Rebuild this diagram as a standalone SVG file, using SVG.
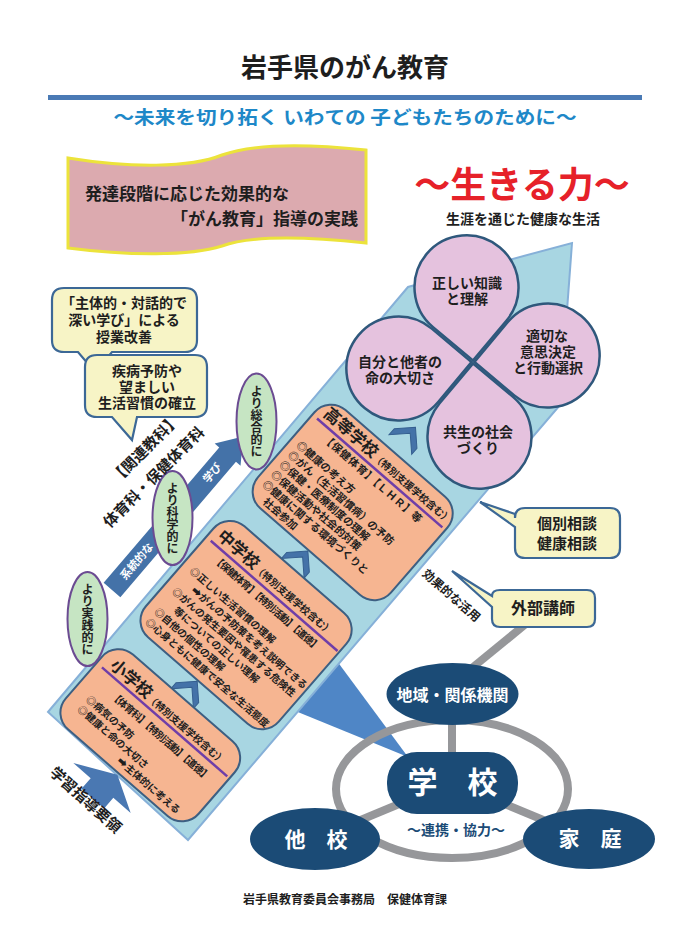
<svg xmlns="http://www.w3.org/2000/svg" xmlns:xlink="http://www.w3.org/1999/xlink" width="690" height="932" viewBox="0 0 690 932">
<style>
text{font-family:"Noto Sans CJK JP","DejaVu Sans",sans-serif;font-weight:bold;fill:#1e1e1e}
.box{fill:#f6b591;stroke:#3d5f82;stroke-width:2}
.pl{stroke:#6f3ea8;stroke-width:2.5}
.chev{fill:#4472a8;stroke:#355f90;stroke-width:1}
.grn{fill:#c6e5c3;stroke:#6b4b92;stroke-width:2}
.bub{fill:#f7f4c6;stroke:#3c6896;stroke-width:2.2}
.pet{fill:#e5c2de;stroke:#2f587c;stroke-width:2.5}
.navy{fill:#1b4b76}
.gr{stroke:#96979a;stroke-width:8;fill:none}
.w{fill:#fff}
.vt{writing-mode:vertical-rl;font-size:12px}
</style>
<defs>
<path id="pt" d="M0,73.5 L36.8,36.8 A52,52 0 1 0 -36.8,36.8 Z"/>
<polygon id="chv" points="-15,4 0,-11 15,4 15,12 0,-3 -15,12"/>
</defs>

<g id="header">
<text x="345" y="77" font-size="26" text-anchor="middle">岩手県のがん教育</text>
<rect x="48" y="95" width="594" height="5" fill="#4a7ab5"/>
<text x="345" y="124" font-size="18" text-anchor="middle" style="fill:#1e88c8" textLength="463" lengthAdjust="spacingAndGlyphs">～未来を切り拓く いわての 子どもたちのために～</text>
</g>

<g id="banner">
<path d="M68,158 C130,168 190,168 222,155 C250,145 300,143 366,150 L366,243 C300,236 250,236 222,246 C190,256 130,256 68,248 Z" fill="#dcaaaf" stroke="#ece33b" stroke-width="3"/>
<text x="85" y="200" font-size="17">発達段階に応じた効果的な</text>
<text x="358" y="225" font-size="17" text-anchor="end">「がん教育」指導の実践</text>
</g>

<g id="ikiru">
<text x="522" y="198" font-size="36" text-anchor="middle" style="fill:#e62129">～生きる力～</text>
<text x="523" y="224" font-size="14" text-anchor="middle">生涯を通じた健康な生活</text>
</g>

<g id="wedge"><polygon points="288,708 334,657 408,757" fill="#4f86c6"/></g>

<g id="band"><polygon points="48,712 408,287 572,243 560,405 188,840" fill="#a8d6e2" stroke="#86b0d8" stroke-width="2"/></g>

<g id="flower">
<use xlink:href="#pt" class="pet" transform="translate(466.5,287.3) rotate(-5)"/>
<use xlink:href="#pt" class="pet" transform="translate(547.7,355.5) rotate(85)"/>
<use xlink:href="#pt" class="pet" transform="translate(479.5,436.7) rotate(175)"/>
<use xlink:href="#pt" class="pet" transform="translate(398.3,368.5) rotate(-95)"/>
<g font-size="14" text-anchor="middle">
<text x="467" y="288">正しい知識</text>
<text x="467" y="304">と理解</text>
<text x="547" y="341">適切な</text>
<text x="548" y="357">意思決定</text>
<text x="548" y="373">と行動選択</text>
<text x="400" y="367">自分と他者の</text>
<text x="400" y="383">命の大切さ</text>
<text x="478" y="437">共生の社会</text>
<text x="478" y="453">づくり</text>
</g>
</g>

<g id="schools" transform="translate(300,560) rotate(41)">
<g id="chevrons">
<use xlink:href="#chv" class="chev" transform="translate(0,-165)"/>
<use xlink:href="#chv" class="chev" transform="translate(0,-1)"/>
<use xlink:href="#chv" class="chev" transform="translate(2,170)"/>
</g>
<g id="high">
<rect class="box" x="-86" y="-143" width="176" height="130" rx="22"/>
<text x="-78" y="-124" font-size="16.5">高等学校<tspan font-size="10">（特別支援学校含む）</tspan></text>
<line class="pl" x1="-80" y1="-118" x2="86" y2="-118"/>
<g font-size="10.5">
<text x="-62" y="-105" textLength="127">【保健体育】【ＬＨＲ】等</text>
<text x="-78" y="-83">◎健康の考え方</text>
<text x="-78" y="-70">◎がん（生活習慣病）の予防</text>
<text x="-78" y="-57">◎保健・医療制度の理解</text>
<text x="-78" y="-44">◎保健活動や社会的対策</text>
<text x="-78" y="-31">◎健康に関する環境づくりと</text>
<text x="-66" y="-18">社会参加</text>
</g>
</g>
<g id="middle">
<rect class="box" x="-86" y="11" width="176" height="147" rx="22"/>
<text x="-78" y="38" font-size="16.5">中学校<tspan font-size="10">（特別支援学校含む）</tspan></text>
<line class="pl" x1="-80" y1="44" x2="88" y2="44"/>
<g font-size="10">
<text x="-66" y="58" textLength="139">【保健体育】【特別活動】【道徳】</text>
<text x="-76" y="82">◎正しい生活習慣の理解</text>
<text x="-62" y="95.5">➡がんの予防策を考え説明できる</text>
<text x="-76" y="109">◎がんの発生要因や罹患する危険性</text>
<text x="-62" y="122.5">等についての正しい理解</text>
<text x="-76" y="136">◎自他の個性の理解</text>
<text x="-76" y="149.5">◎心身ともに健康で安全な生活態度</text>
</g>
</g>
<g id="elementary">
<rect class="box" x="-86" y="181" width="176" height="99" rx="22"/>
<text x="-74" y="206" font-size="16.5">小学校<tspan font-size="10">（特別支援学校含む）</tspan></text>
<line class="pl" x1="-79" y1="211" x2="87" y2="211"/>
<g font-size="10">
<text x="-54" y="228" textLength="129">【体育科】【特別活動】【道徳】</text>
<text x="-70" y="247">◎病気の予防</text>
<text x="-70" y="260">◎健康と命の大切さ</text>
<text x="-6" y="273">➡主体的に考える</text>
</g>
</g>
</g>

<g id="keitou" transform="translate(112,590) rotate(-49.5)">
<path d="M0,-11 H178 V-17 L202,0 L178,17 V11 H0 Z" fill="#4472a8"/>
<text x="16" y="4" font-size="11" class="w">系統的な</text>
<text x="143" y="4" font-size="11" class="w">学び</text>
</g>

<g id="ovals">
<ellipse class="grn" cx="87.5" cy="619" rx="20" ry="47"/>
<text class="vt" x="87.5" y="619" text-anchor="middle">より実践的に</text>
<ellipse class="grn" cx="172.5" cy="518" rx="20" ry="47"/>
<text class="vt" x="172.5" y="518" text-anchor="middle">より科学的に</text>
<ellipse class="grn" cx="256.5" cy="421.5" rx="20" ry="48"/>
<text class="vt" x="256.5" y="421.5" text-anchor="middle">より総合的に</text>
</g>

<g id="kanren" transform="translate(145.5,449) rotate(-45)" font-size="15">
<text x="0" y="5" text-anchor="middle">【関連教科】</text>
<text x="-14" y="31" text-anchor="middle">体育科・保健体育科</text>
</g>

<g id="bubble1">
<path class="bub" d="M64,288 H185 Q197,288 197,300 V340 Q197,352 185,352 H112 L95,372 L78,352 H64 Q52,352 52,340 V300 Q52,288 64,288 Z"/>
<g font-size="14" text-anchor="middle">
<text x="124" y="308">「主体的・対話的で</text>
<text x="124" y="325">深い学び」による</text>
<text x="124" y="342">授業改善</text>
</g>
</g>
<g id="bubble2">
<path class="bub" d="M97,355 H195 Q207,355 207,367 V405 Q207,417 195,417 H137 L132,440 L112,417 H97 Q85,417 85,405 V367 Q85,355 97,355 Z"/>
<g font-size="14" text-anchor="middle">
<text x="147" y="376">疾病予防や</text>
<text x="147" y="392">望ましい</text>
<text x="147" y="408">生活習慣の確立</text>
</g>
</g>

<g id="soudan">
<path class="bub" d="M525,508 H610 Q620,508 620,518 V548 Q620,558 610,558 H525 Q515,558 515,548 V527 L480,502 L515,514 V518 Q515,508 525,508 Z"/>
<text x="567" y="529" font-size="15" text-anchor="middle" font-weight="500">個別相談</text>
<text x="567" y="549" font-size="15" text-anchor="middle" font-weight="500">健康相談</text>
</g>

<g id="connectors">
<line class="gr" x1="445" y1="690" x2="527" y2="623"/>
<ellipse class="gr" cx="452" cy="789" rx="116" ry="69"/>
<line class="gr" x1="452" y1="700" x2="452" y2="780"/>
<line class="gr" x1="452" y1="782" x2="315" y2="839"/>
<line class="gr" x1="452" y1="782" x2="589" y2="839"/>
</g>

<g id="gaibu">
<path class="bub" d="M500,590 H587 Q595,590 595,598 V619 Q595,627 587,627 H500 Q492,627 492,619 V607 L452,571 L492,596 Q492,590 500,590 Z"/>
<text x="543" y="614" font-size="16" text-anchor="middle" font-weight="500">外部講師</text>
</g>

<g id="katsuyou" transform="translate(424,572) rotate(41)">
<text x="0" y="4" font-size="12">効果的な活用</text>
</g>

<g id="chiiki">
<ellipse class="navy" cx="452.5" cy="694" rx="66" ry="31"/>
<text class="w" x="452.5" y="701" font-size="16" text-anchor="middle">地域・関係機関</text>
</g>
<g id="gakkou">
<rect class="navy" x="387" y="752" width="131" height="62" rx="30"/>
<text class="w" x="452.5" y="793" font-size="30" text-anchor="middle">学　校</text>
</g>
<g id="takou">
<ellipse class="navy" cx="315" cy="839" rx="65" ry="31"/>
<text class="w" x="316" y="847" font-size="21" text-anchor="middle">他　校</text>
</g>
<g id="katei">
<ellipse class="navy" cx="589" cy="839" rx="66" ry="30"/>
<text class="w" x="590" y="846" font-size="21" text-anchor="middle">家　庭</text>
</g>
<text x="456" y="835" font-size="14" text-anchor="middle" style="fill:#1b4b76">～連携・協力～</text>

<g id="youryou">
<g transform="translate(102,788) rotate(41)">
<polygon points="-38,0 3,-20 38,0 15,0 15,14 -15,14 -15,0" fill="#4a78b2"/>
</g>
<g transform="translate(52,770) rotate(42)">
<text x="0" y="5" font-size="15">学習指導要領</text>
</g>
</g>

<text x="345" y="904" font-size="12" text-anchor="middle" font-weight="500">岩手県教育委員会事務局　保健体育課</text>
</svg>
